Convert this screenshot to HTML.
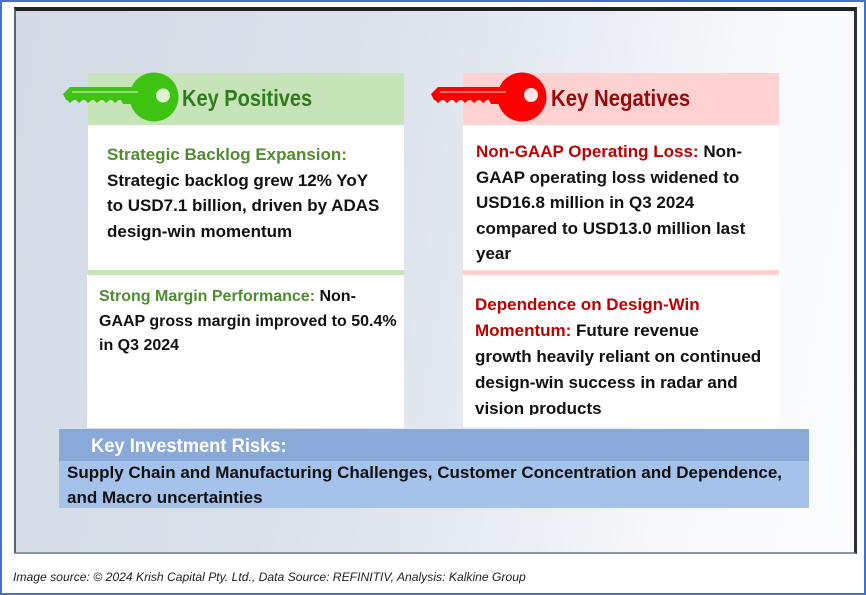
<!DOCTYPE html>
<html>
<head>
<meta charset="utf-8">
<style>
  html,body{margin:0;padding:0;}
  body{width:866px;height:595px;position:relative;overflow:hidden;background:#ffffff;font-family:"Liberation Sans",Arial,sans-serif;}
  .outer{position:absolute;left:0;top:0;width:862px;height:591px;border:2px solid #4472c4;background:#fff;}
  .frame{position:absolute;left:14px;top:7px;width:843px;height:547px;box-sizing:border-box;
    border-top:4px solid #1e2226;border-left:2px solid #5b6470;border-right:3px solid #2a3038;border-bottom:2px solid #8793a6;
    background:linear-gradient(100deg,#d3dbe6 0%,#d9e0ea 35%,#e6ebf2 58%,#f6f8fa 78%,#fbfcfd 100%);}
  .abs{position:absolute;}
  .hdr-g{background:#c6e4b8;}
  .hdr-r{background:#ffd2d2;}
  .white{background:#ffffff;}
  .title{position:absolute;font-weight:bold;font-size:23px;line-height:23px;white-space:nowrap;transform-origin:0 0;}
  .txt{position:absolute;font-weight:bold;font-size:17px;color:#111;white-space:nowrap;}
  .g{color:#4f8c30;}
  .r{color:#c00000;}
</style>
</head>
<body>
<div class="outer"></div>
<div class="frame"></div>

<!-- Left column -->
<div class="abs hdr-g" style="left:88px;top:73px;width:316px;height:52px;"></div>
<div class="abs white" style="left:88px;top:125px;width:316px;height:145px;"></div>
<div class="abs hdr-g" style="left:88px;top:270px;width:316px;height:5px;"></div>
<div class="abs white" style="left:87px;top:275px;width:317px;height:153px;"></div>

<!-- Right column -->
<div class="abs hdr-r" style="left:463px;top:73px;width:316px;height:52px;"></div>
<div class="abs white" style="left:463px;top:125px;width:316px;height:145px;"></div>
<div class="abs hdr-r" style="left:463px;top:270px;width:316px;height:5px;"></div>
<div class="abs white" style="left:463px;top:275px;width:317px;height:152px;"></div>

<!-- Keys -->
<svg class="abs" style="left:0;top:0;" width="866" height="595" viewBox="0 0 866 595">
  <g fill="#3fc312">
    <path d="M63,94 L70,87 L140,87 L140,104 L123,104 L121,100 L66,100 Z"/>
    <path d="M66,99 L70,103 L75,99 L79,103 L84,99 L88,103 L93,99 L97,103 L102,99 L106,103 L111,99 L115,103 L120,99 Z"/>
    <circle cx="154" cy="97" r="24.5"/>
    <line x1="72" y1="92" x2="138" y2="92" stroke="#a6e58a" stroke-width="1.5"/>
    <circle cx="163" cy="95.5" r="7" fill="#dff2d4"/>
  </g>
  <g fill="#ff0000" transform="translate(368,0)">
    <path d="M63,94 L70,87 L140,87 L140,104 L123,104 L121,100 L66,100 Z"/>
    <path d="M66,99 L70,103 L75,99 L79,103 L84,99 L88,103 L93,99 L97,103 L102,99 L106,103 L111,99 L115,103 L120,99 Z"/>
    <circle cx="154" cy="97" r="24.5"/>
    <line x1="72" y1="92" x2="138" y2="92" stroke="#ff8a8a" stroke-width="1.5"/>
    <circle cx="163" cy="95" r="7" fill="#ffe6e6"/>
  </g>
</svg>

<div class="title" style="left:182px;top:86.5px;color:#2f7b1d;transform:scaleX(0.87);">Key Positives</div>
<div class="title" style="left:551px;top:86.5px;color:#960a0a;transform:scaleX(0.885);">Key Negatives</div>

<!-- Left texts -->
<div class="txt" style="left:107px;top:142px;line-height:25.7px;">
<span class="g">Strategic Backlog Expansion:</span><br>
Strategic backlog grew 12% YoY<br>
to USD7.1 billion, driven by ADAS<br>
design-win momentum
</div>

<div class="txt" style="left:99px;top:285px;line-height:24.5px;font-size:16px;">
<span class="g">Strong Margin Performance:</span> Non-<br>
GAAP gross margin improved to 50.4%<br>
in Q3 2024
</div>

<!-- Right texts -->
<div class="txt" style="left:476px;top:139px;line-height:25.6px;">
<span class="r">Non-GAAP Operating Loss:</span> Non-<br>
GAAP operating loss widened to<br>
USD16.8 million in Q3 2024<br>
compared to USD13.0 million last<br>
year
</div>

<div class="abs" style="left:463px;top:275px;width:317px;height:140px;overflow:hidden;">
<div class="txt" style="left:12px;top:17px;line-height:26px;">
<span class="r">Dependence on Design-Win</span><br>
<span class="r">Momentum:</span> Future revenue<br>
growth heavily reliant on continued<br>
design-win success in radar and<br>
vision products
</div>
</div>

<!-- Risks band -->
<div class="abs" style="left:59px;top:429px;width:750px;height:32px;background:#89a9d9;"></div>
<div class="abs" style="left:59px;top:461px;width:750px;height:47px;background:#a5c2ea;"></div>
<div class="title" style="left:91px;top:435px;font-size:19.5px;line-height:22px;color:#ffffff;transform:scaleX(0.94);">Key Investment Risks:</div>
<div class="txt" style="left:67px;top:459.5px;line-height:25px;">
Supply Chain and Manufacturing Challenges, Customer Concentration and Dependence,<br>
and Macro uncertainties
</div>

<!-- Footer -->
<div class="abs" style="left:13px;top:569px;font-size:12.15px;line-height:16px;font-style:italic;color:#222;white-space:nowrap;">Image source: © 2024 Krish Capital Pty. Ltd., Data Source: REFINITIV, Analysis: Kalkine Group</div>
</body>
</html>
